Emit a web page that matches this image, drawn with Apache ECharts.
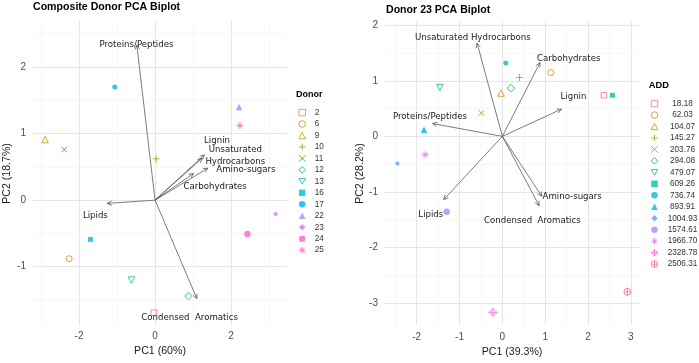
<!DOCTYPE html>
<html>
<head>
<meta charset="utf-8">
<script src="https://cdn.jsdelivr.net/npm/echarts@6/dist/echarts.min.js"></script>
<style>
html,body{margin:0;padding:0;background:#fff;}
#chart{width:699px;height:363px;}
</style>
</head>
<body>
<div id="chart"></div>
<script>
// ---------- DATA ----------
const leftDonors = ['2','6','9','10','11','12','13','16','17','22','23','24','25'];
const leftPC1 = [-0.03,-2.26,-2.89,0.03,-2.39,0.88,-0.62,-1.70,-1.06,2.21,3.17,2.43,2.23];
const leftPC2 = [-1.69,-0.88,0.91,0.62,0.76,-1.44,-1.20,-0.59,1.70,1.40,-0.21,-0.51,1.12];

const leftLoadNames = ['Proteins/Peptides','Lignin','Unsaturated\nHydrocarbons','Amino-sugars','Carbohydrates','Lipids','Condensed  Aromatics'];
const leftLoadX = [-0.48,1.30,1.24,1.39,1.01,-1.26,1.10];
const leftLoadY = [2.33,0.68,0.63,0.48,0.40,-0.05,-1.48];
const leftLabX = [-0.49,1.63,2.11,2.39,1.58,-1.57,0.91];
const leftLabY = [2.34,0.89,0.67,0.45,0.20,-0.23,-1.76];

const rightADD = ['18.18','62.03','104.07','145.27','203.76','294.08','479.07','609.26','736.74','893.91','1004.93','1574.61','1966.70','2328.78','2506.31'];
const rightPC1 = [2.37,1.13,-0.03,0.40,-0.49,0.20,-1.46,2.57,0.08,-1.83,-2.45,-1.30,-1.80,-0.22,2.92];
const rightPC2 = [0.74,1.15,0.78,1.06,0.42,0.87,0.88,0.74,1.32,0.12,-0.49,-1.36,-0.33,-3.17,-2.80];

const rightLoadNames = ['Unsaturated Hydrocarbons','Carbohydrates','Lignin','Proteins/Peptides','Lipids','Amino-sugars','Condensed  Aromatics'];
const rightLoadX = [-0.59,0.88,1.38,-1.63,-1.37,0.92,0.86];
const rightLoadY = [1.68,1.33,0.49,0.23,-1.14,-1.08,-1.25];
const rightLabX = [-0.69,1.55,1.66,-1.69,-1.67,1.63,0.70];
const rightLabY = [1.77,1.40,0.71,0.35,-1.41,-1.09,-1.52];

const leftXTicks = [-2,0,2], leftXMinor = [-3,-1,1,3];
const leftYTicks = [-1,0,1,2], leftYMinor = [-1.5,-0.5,0.5,1.5,2.5];
const rightXTicks = [-2,-1,0,1,2,3], rightXMinor = [-2.5,-1.5,-0.5,0.5,1.5,2.5];
const rightYTicks = [-3,-2,-1,0,1,2], rightYMinor = [-2.5,-1.5,-0.5,0.5,1.5];

// ---------- STYLES ----------
const leftColors = ['#F8766D','#E18A00','#BE9C00','#8CAB00','#24B700','#00BE70','#00C1AB','#00BBDA','#00ACFC','#8B93FF','#D575FE','#F962DD','#FF65AC'];
const rightColors = ['#F8766D','#E58700','#C99800','#A3A500','#6BB100','#00BA38','#00BF7D','#00C0AF','#00BCD8','#00B0F6','#619CFF','#B983FF','#E76BF3','#FD61D1','#FF67A4'];

const P = {
  plus: 'path://M5,0L5,10M0,5L10,5',
  cross: 'path://M0,0L10,10M10,0L0,10',
  down: 'path://M0,0L10,0L5,8.66Z',
  star: 'path://M5,0L5,10M0,5L10,5M1.46,1.46L8.54,8.54M8.54,1.46L1.46,8.54',
  dplus: 'path://M5,0L10,5L5,10L0,5ZM5,0L5,10M0,5L10,5',
  cplus: 'path://M0,5A5,5,0,1,1,10,5A5,5,0,1,1,0,5ZM5,0L5,10M0,5L10,5'
};
const shapes = [
  {s:'rect', f:false, z:5.5},
  {s:'circle', f:false, z:6},
  {s:'triangle', f:false, z:6.5},
  {s:P.plus, f:false, z:7},
  {s:P.cross, f:false, z:5.5},
  {s:'diamond', f:false, z:7.5},
  {s:P.down, f:false, z:6.5},
  {s:'rect', f:true, z:5},
  {s:'circle', f:true, z:5},
  {s:'triangle', f:true, z:6.5},
  {s:'diamond', f:true, z:5},
  {s:'circle', f:true, z:6.5},
  {s:P.star, f:false, z:7},
  {s:P.dplus, f:false, z:8},
  {s:P.cplus, f:false, z:7}
];
function itemStyleFor(sh, c){
  return sh.f ? {color:c, borderWidth:0} : {color:'rgba(0,0,0,0)', borderColor:c, borderWidth:1};
}

const TXT = 'Liberation Sans';
const LBL = 'DejaVu Sans';

function pointSeries(names, xs, ys, colors, axisIdx){
  return names.map((n,i)=>({
    type:'scatter', name:n, xAxisIndex:axisIdx, yAxisIndex:axisIdx,
    symbol:shapes[i].s, symbolSize:shapes[i].z,
    itemStyle:itemStyleFor(shapes[i], colors[i]),
    data:[[xs[i], ys[i]]], z:3, emphasis:{disabled:true}, silent:true
  }));
}
function arrowSeries(xs, ys, axisIdx){
  return {
    type:'custom', xAxisIndex:axisIdx, yAxisIndex:axisIdx, z:2, silent:true,
    data: xs.map((x,i)=>[x, ys[i]]),
    renderItem:function(params, api){
      const o = api.coord([0,0]);
      const t = api.coord([api.value(0), api.value(1)]);
      const ang = Math.atan2(t[1]-o[1], t[0]-o[0]);
      const L = 5, a = Math.PI/7;
      const p1 = [t[0]-L*Math.cos(ang-a), t[1]-L*Math.sin(ang-a)];
      const p2 = [t[0]-L*Math.cos(ang+a), t[1]-L*Math.sin(ang+a)];
      return {type:'group', children:[
        {type:'line', shape:{x1:o[0],y1:o[1],x2:t[0],y2:t[1]}, style:{stroke:'#5a5a5a', lineWidth:0.8}},
        {type:'polyline', shape:{points:[p1,t,p2]}, style:{stroke:'#5a5a5a', lineWidth:0.8, fill:null}}
      ]};
    }
  };
}
function labelSeries(names, xs, ys, axisIdx){
  return {
    type:'custom', xAxisIndex:axisIdx, yAxisIndex:axisIdx, z:4, silent:true,
    data: xs.map((x,i)=>[x, ys[i]]),
    renderItem:function(params, api){
      const p = api.coord([api.value(0), api.value(1)]);
      return {type:'text', x:p[0], y:p[1], style:{
        text:names[params.dataIndex], fill:'#1a1a1a', fontSize:8.6, fontFamily:LBL,
        align:'center', verticalAlign:'middle', lineHeight:11.5
      }};
    }
  };
}

function axisPair(kind, grid, min, max, major, minor, name, nameGap){
  const isX = kind === 'x';
  const major_ = {
    type:'value', gridIndex:grid, min:min, max:max,
    name:name, nameLocation:'middle', nameGap:nameGap,
    nameTextStyle:{fontFamily:TXT, fontSize:10.6, color:'#1a1a1a'},
    axisLine:{show:false},
    axisTick:{show:false, customValues:major},
    axisLabel:{customValues:major, color:'#4D4D4D', fontFamily:TXT, fontSize:10, margin: isX ? 5 : 7},
    splitLine:{show:true, lineStyle:{color:'#E6E6E6', width:1}}
  };
  const minor_ = {
    type:'value', gridIndex:grid, min:min, max:max,
    axisLine:{show:false},
    axisTick:{show:false, customValues:minor},
    axisLabel:{show:false},
    splitLine:{show:true, lineStyle:{color:'#F2F2F2', width:0.6}}
  };
  if (!isX) { major_.nameRotate = 90; }
  return [major_, minor_];
}

const lx = axisPair('x', 0, -3.21, 3.47, leftXTicks, leftXMinor, 'PC1 (60%)', 20);
const ly = axisPair('y', 0, -1.89, 2.69, leftYTicks, leftYMinor, 'PC2 (18.7%)', 20);
const rx = axisPair('x', 1, -2.74, 3.19, rightXTicks, rightXMinor, 'PC1 (39.3%)', 18.5);
const ry = axisPair('y', 1, -3.40, 2.06, rightYTicks, rightYMinor, 'PC2 (28.2%)', 18.5);
rx[0].axisLabel.margin = 7;

function legendFor(names, colors, left, top, boxW){
  return {
    orient:'vertical', left:left, top:top, padding:0,
    itemWidth:6.5, itemHeight:6.5, itemGap:2.47, selectedMode:false,
    data: names.map((n,i)=>({name:n, icon:shapes[i].s,
      itemStyle: shapes[i].f ? {color:colors[i], borderWidth:0} : {color:'rgba(0,0,0,0)', borderColor:colors[i], borderWidth:1}})),
    formatter: n => '{a|' + n + '}',
    textStyle:{fontFamily:TXT, fontSize:8.2, color:'#333', lineHeight:9,
      rich:{a:{fontFamily:TXT, fontSize:8.2, color:'#333', lineHeight:9, width:boxW || undefined,
        align: boxW ? 'center' : 'left', padding: boxW ? 0 : [0,0,0,4.35]}}}
  };
}

const option = {
  animation:false,
  backgroundColor:'#ffffff',
  title:[
    {text:'Composite Donor PCA Biplot', left:33, top:1.5, padding:0,
      textStyle:{fontFamily:TXT, fontSize:10.6, fontWeight:'bold', color:'#000'}},
    {text:'Donor 23 PCA Biplot', left:386, top:4.5, padding:0,
      textStyle:{fontFamily:TXT, fontSize:10.6, fontWeight:'bold', color:'#000'}},
    {text:'Donor', left:296, top:90, padding:0,
      textStyle:{fontFamily:TXT, fontSize:9, fontWeight:'bold', color:'#000'}},
    {text:'ADD', left:648.7, top:81, padding:0,
      textStyle:{fontFamily:TXT, fontSize:9.4, fontWeight:'bold', color:'#000'}}
  ],
  grid:[
    {left:33, top:21, width:254, height:305},
    {left:385, top:22, width:254, height:307}
  ],
  xAxis:[lx[0], lx[1], rx[0], rx[1]],
  yAxis:[ly[0], ly[1], ry[0], ry[1]],
  legend:[
    legendFor(leftDonors, leftColors, 298.45, 108.05, 0),
    legendFor(rightADD, rightColors, 650.75, 99.05, 39.5)
  ],
  series:[].concat(
    [arrowSeries(leftLoadX, leftLoadY, 0), labelSeries(leftLoadNames, leftLabX, leftLabY, 0)],
    pointSeries(leftDonors, leftPC1, leftPC2, leftColors, 0),
    [arrowSeries(rightLoadX, rightLoadY, 2), labelSeries(rightLoadNames, rightLabX, rightLabY, 2)],
    pointSeries(rightADD, rightPC1, rightPC2, rightColors, 2)
  )
};

const chart = echarts.init(document.getElementById('chart'), null, {renderer:'canvas'});
chart.setOption(option);
</script>
</body>
</html>
